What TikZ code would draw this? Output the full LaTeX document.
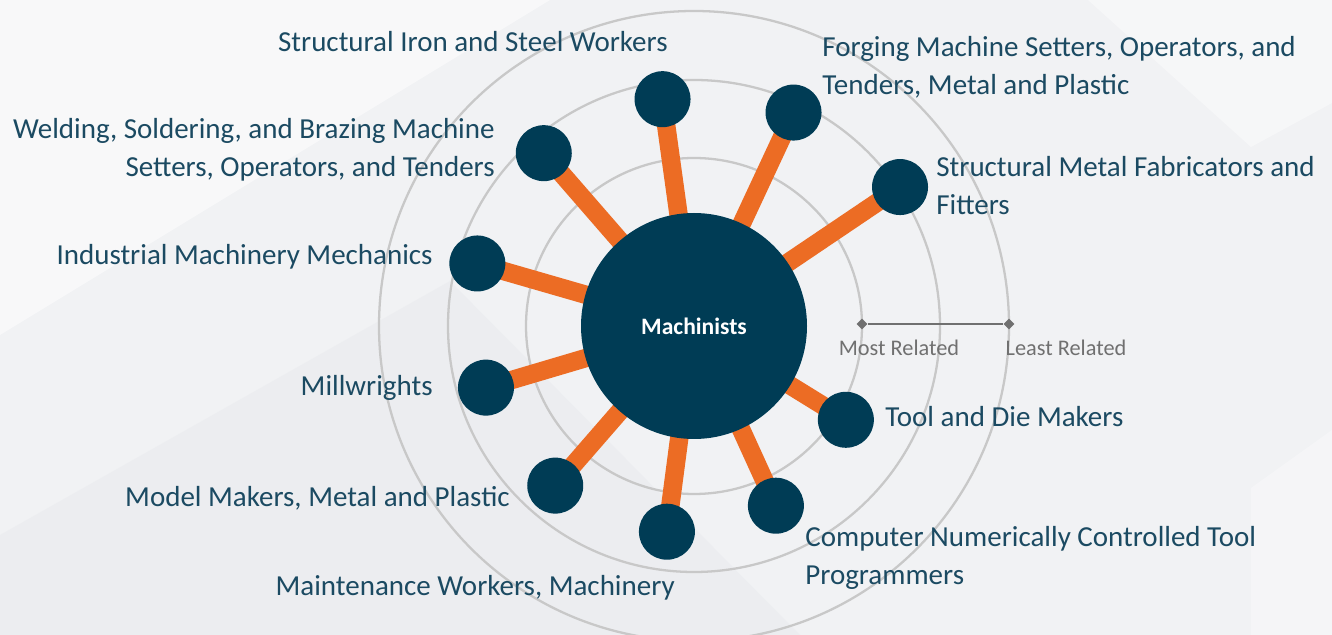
\documentclass[tikz,border=0pt]{standalone}
\usepackage{fontspec}
\setmainfont{Carlito}
\usetikzlibrary{positioning, shapes.geometric, backgrounds}

\definecolor{navy}{RGB}{0,60,85}
\definecolor{spokeorange}{RGB}{236,108,36}
\definecolor{labeltext}{RGB}{27,74,98}
\definecolor{ringgray}{RGB}{200,200,200}
\definecolor{scalegray}{RGB}{112,112,112}
\definecolor{bggray}{RGB}{241,242,244}
\definecolor{bgshade}{RGB}{226,228,232}

\begin{document}
\begin{tikzpicture}[
    hub/.style={circle, fill=navy, minimum size=4.52cm, inner sep=0pt, text=white,
                font=\fontsize{13.4}{16}\selectfont\bfseries},
    leaf/.style={circle, fill=navy, minimum size=1.12cm, inner sep=0pt},
    spoke/.style={draw=spokeorange, line width=10.5pt},
    ring/.style={draw=ringgray, line width=1.3pt},
    occ/.style={text=labeltext, inner sep=0pt, font=\fontsize{16.5}{21.6}\selectfont},
    tick/.style={diamond, fill=scalegray, minimum size=0.22cm, inner sep=0pt},
    ticklabel/.style={text=scalegray, inner sep=0pt, font=\fontsize{12.7}{15}\selectfont},
    scaleline/.style={draw=scalegray, line width=1.6pt}
]
    \useasboundingbox (0,0) rectangle (26.64,12.7);
    \clip (0,0) rectangle (26.64,12.7);

    % === Hub and related occupations ===
    \begin{scope}[shift={(13.88,6.18)}]
        \node[hub] (hub) at (0,0) {Machinists};

        \node[leaf] (fab)      at (34.0:4.97)  {};
        \node[leaf] (forging)  at (65.0:4.71)  {};
        \node[leaf] (iron)     at (97.9:4.58)  {};
        \node[leaf] (welding)  at (131.0:4.58) {};
        \node[leaf] (mech)     at (163.9:4.51) {};
        \node[leaf] (mill)     at (196.5:4.34) {};
        \node[leaf] (model)    at (229.0:4.23) {};
        \node[leaf] (maint)    at (262.5:4.15) {};
        \node[leaf] (cnc)      at (294.5:3.95) {};
        \node[leaf] (tooldie)  at (328.3:3.57) {};
    \end{scope}

    % === Labels ===
    \node[occ, anchor=east] (ironlbl) at (13.36,11.86) {Structural Iron and Steel Workers};
    \node[occ, anchor=west, align=left] (forginglbl) at (16.44,11.36)
        {Forging Machine Setters, Operators, and\\Tenders, Metal and Plastic};
    \node[occ, anchor=west, align=left] (fablbl) at (18.72,8.98)
        {Structural Metal Fabricators and\\Fitters};
    \node[occ, anchor=east, align=right] (weldinglbl) at (9.90,9.71)
        {Welding, Soldering, and Brazing Machine\\Setters, Operators, and Tenders};
    \node[occ, anchor=east] (mechlbl) at (8.66,7.56) {Industrial Machinery Mechanics};
    \node[occ, anchor=east] (milllbl) at (8.66,4.94) {Millwrights};
    \node[occ, anchor=east] (modellbl) at (10.20,2.74) {Model Makers, Metal and Plastic};
    \node[occ, anchor=east] (maintlbl) at (13.50,0.94) {Maintenance Workers, Machinery};
    \node[occ, anchor=west, align=left] (cnclbl) at (16.10,1.55)
        {Computer Numerically Controlled Tool\\Programmers};
    \node[occ, anchor=west] (tooldielbl) at (17.70,4.36) {Tool and Die Makers};

    % === Relatedness scale ===
    \node[tick] (most) at (17.24,6.22) {};
    \node[tick] (least) at (20.18,6.22) {};
    \draw[scaleline] (most) -- (least);
    \node[ticklabel] (mostlbl) at (17.98,5.74) {Most Related};
    \node[ticklabel] (leastlbl) at (21.32,5.74) {Least Related};

    % === Background, rings and spokes ===
    \begin{scope}[on background layer]
        \fill[bggray] (0,0) rectangle (26.64,12.7);
        \fill[white, opacity=0.5] (0,12.7) -- (11,12.7) -- (0,6.0) -- cycle;
        \fill[bgshade, opacity=0.3] (0,0) -- (0,2.0) -- (9,7.08) -- (16,0) -- cycle;
        \fill[white, opacity=0.4] (21.76,12.7) -- (26.64,12.7) -- (26.64,10.64) -- (25.02,9.76) -- cycle;
        \fill[white, opacity=0.3] (25.02,0) -- (25.02,2.94) -- (26.64,4.1) -- (26.64,0) -- cycle;

        \foreach \r in {3.36, 4.92, 6.30}
            \draw[ring] (hub.center) circle (\r);

        \foreach \leafname in {fab, forging, iron, welding, mech, mill, model, maint, cnc, tooldie}
            \draw[spoke] (hub.center) -- (\leafname.center);
    \end{scope}

\end{tikzpicture}
\end{document}
